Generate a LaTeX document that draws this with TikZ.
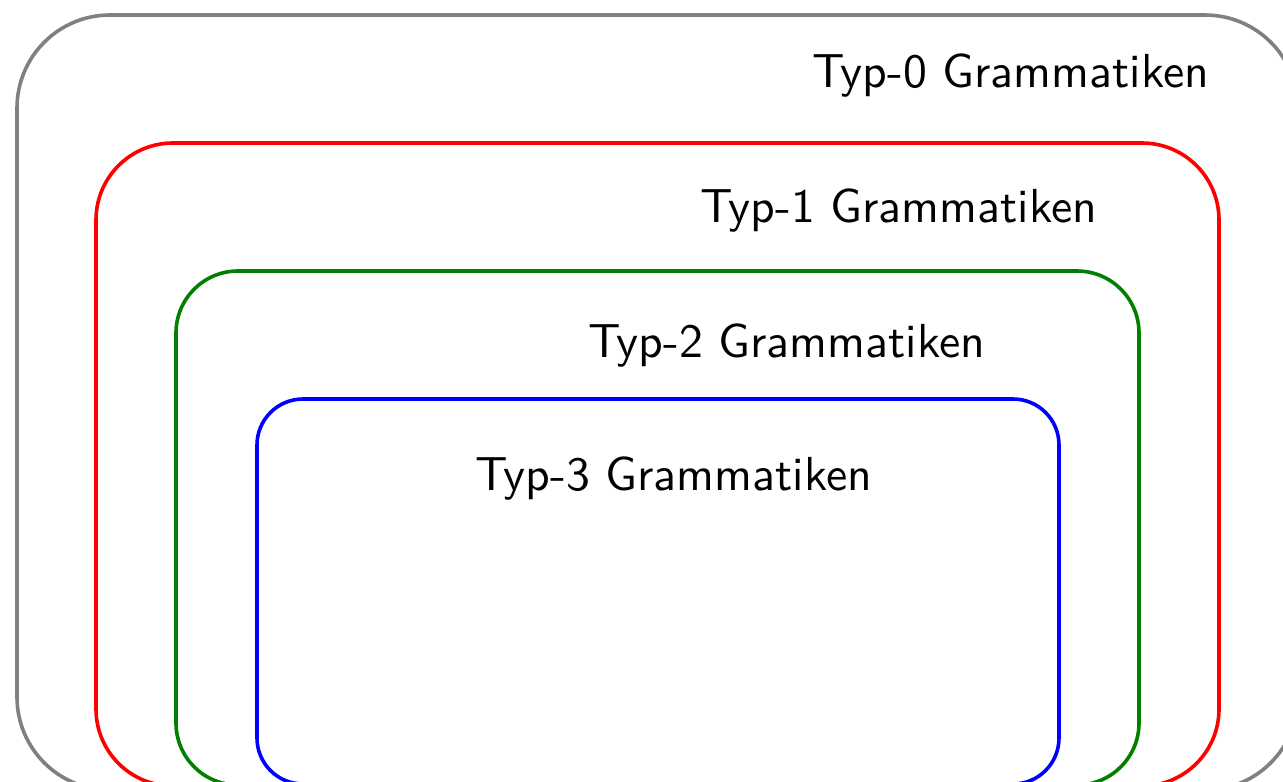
\documentclass[tikz,border=0pt]{standalone}
\begin{document}
\begin{tikzpicture}[x=1pt,y=-1pt,
  frame/.style={line width=3.6pt},
  lbl/.style={anchor=base east,inner sep=0pt,scale=4.77,font=\sffamily\fontsize{10}{12}\selectfont}]
\useasboundingbox (0,0) rectangle (1283,782);
\clip (0,0) rectangle (1283,782);
% nested grammar classes
\draw[frame,gray]  [rounded corners=93pt] (17,15) rectangle (1298,790);
\draw[frame,red]   [rounded corners=77pt] (96,143) rectangle (1219,786);
\draw[frame,green!50!black] [rounded corners=62pt] (176,271) rectangle (1139,785);
\draw[frame,blue]  [rounded corners=46pt] (257,399) rectangle (1059,784);
% labels
\node[lbl] (t0) at (1210,87)  {Typ-0 Grammatiken};
\node[lbl] (t1) at (1098,222) {Typ-1 Grammatiken};
\node[lbl] (t2) at (986,357)  {Typ-2 Grammatiken};
\node[lbl] (t3) at (873,490)  {Typ-3 Grammatiken};
\end{tikzpicture}
\end{document}
